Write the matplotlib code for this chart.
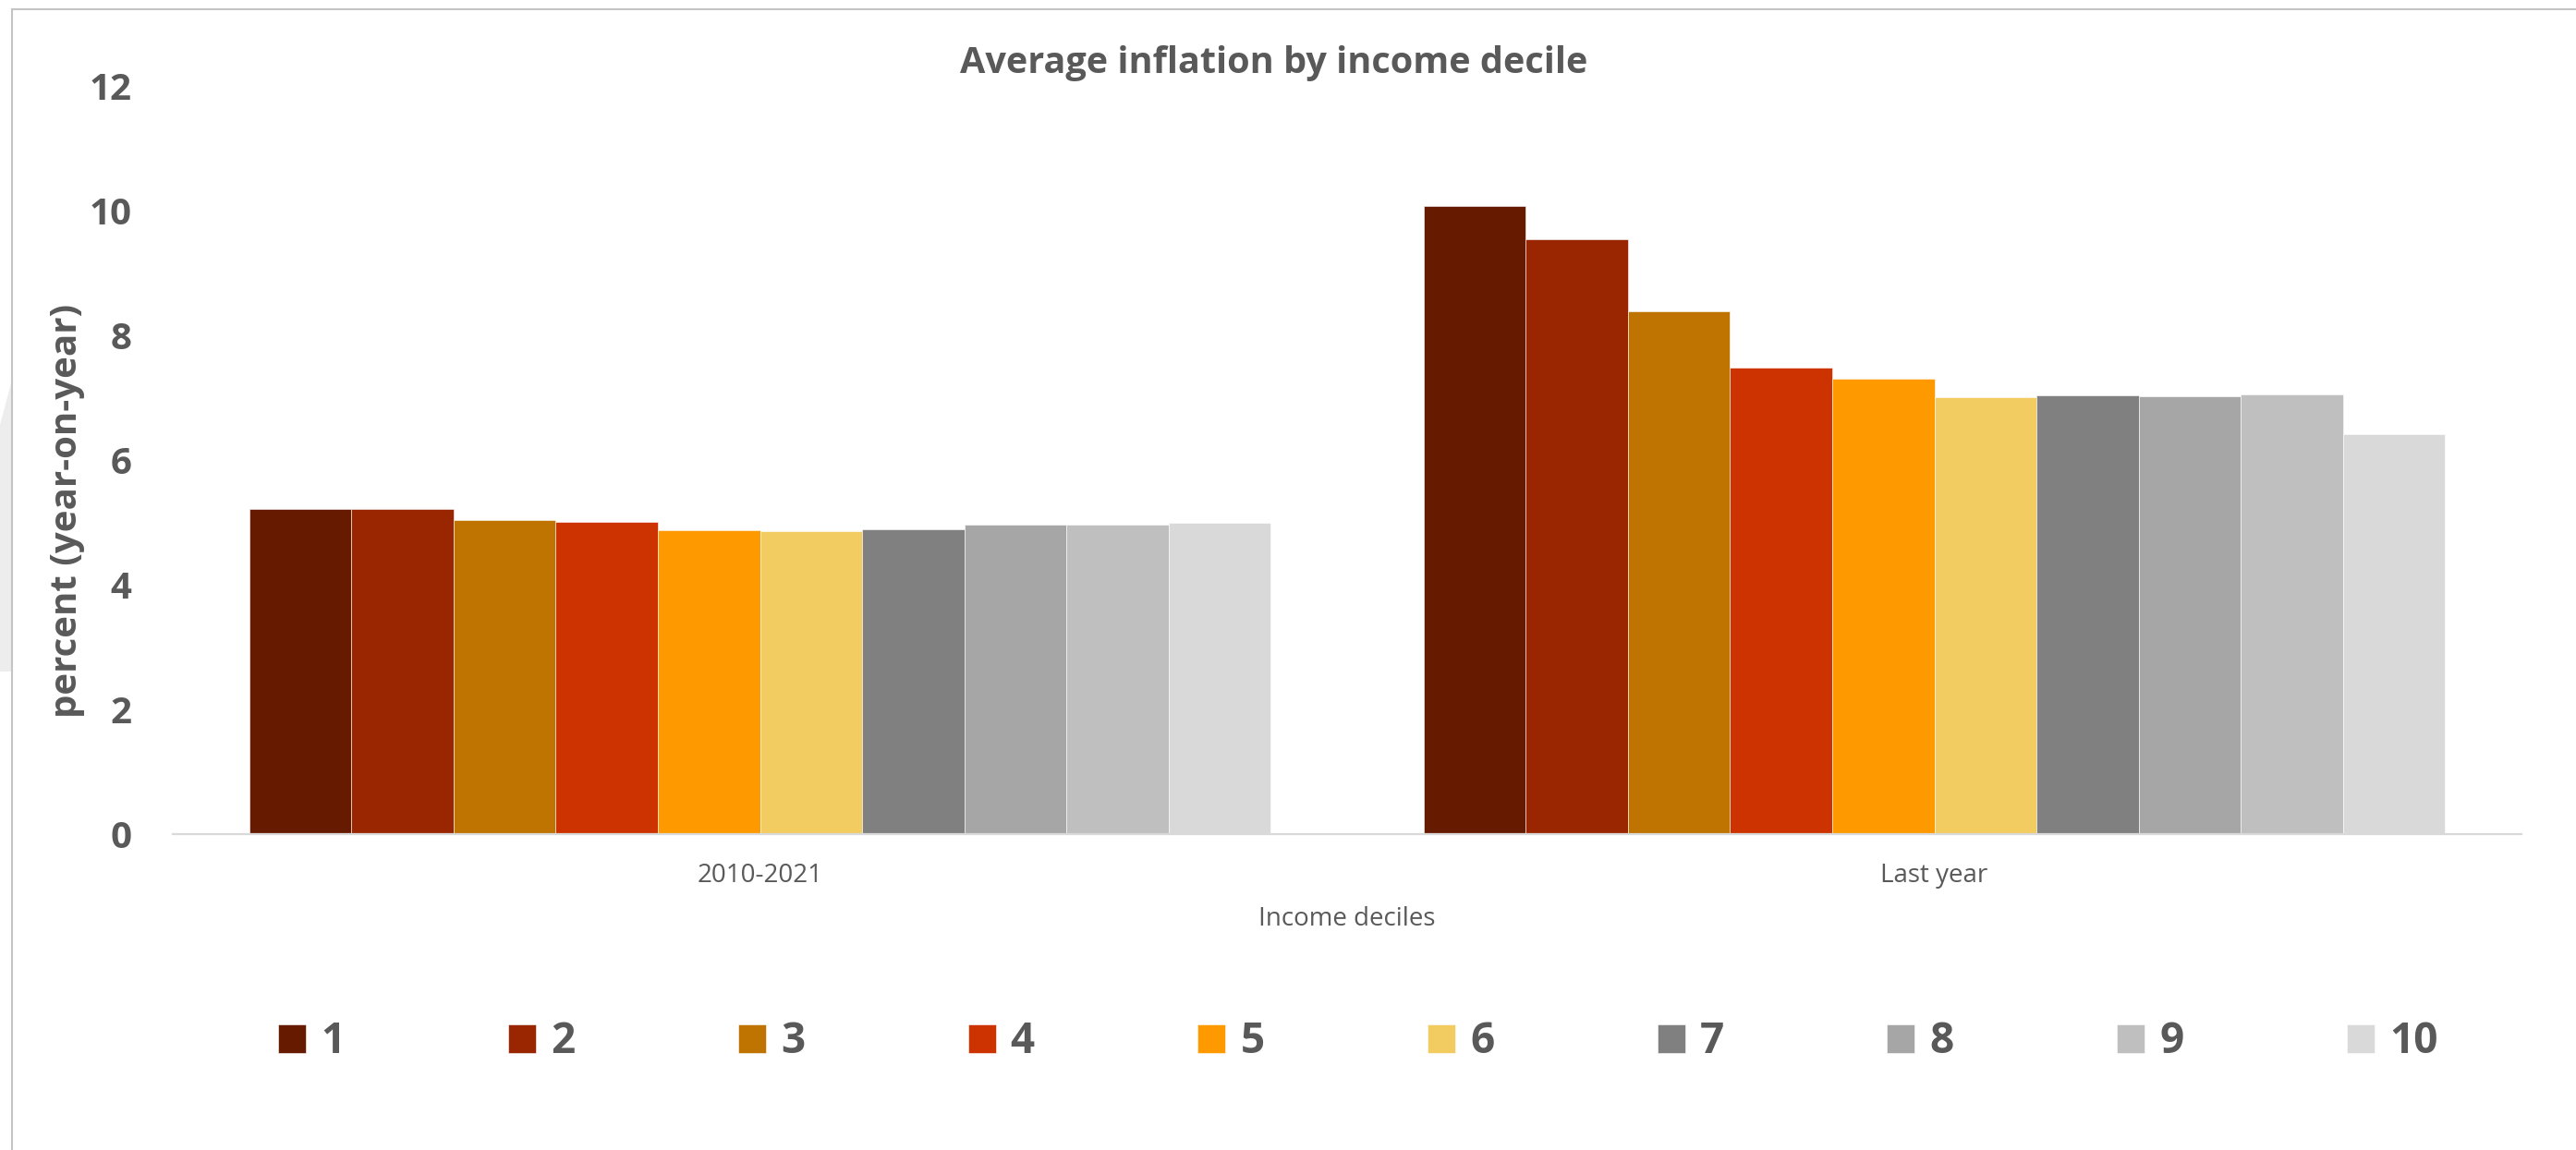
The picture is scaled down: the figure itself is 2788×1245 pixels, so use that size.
import matplotlib
matplotlib.use("Agg")
import matplotlib.pyplot as plt
from matplotlib.patches import Polygon
from matplotlib.lines import Line2D
import numpy as np

plt.rcParams['font.family'] = ['Open Sans', 'DejaVu Sans']

categories = ["2010-2021", "Last year"]
deciles = ["1", "2", "3", "4", "5", "6", "7", "8", "9", "10"]
values_2010_2021 = [5.21, 5.21, 5.03, 5.00, 4.87, 4.85, 4.88, 4.96, 4.96, 4.99]
values_last_year = [10.07, 9.54, 8.38, 7.48, 7.30, 7.00, 7.04, 7.02, 7.05, 6.41]
colors = ["#661A00", "#992600", "#BF7300", "#CC3300", "#FF9900",
          "#F2CC60", "#808080", "#A6A6A6", "#BFBFBF", "#D9D9D9"]
yticks = [0, 2, 4, 6, 8, 10, 12]

W, H = 2788, 1245
fig = plt.figure(figsize=(W / 100, H / 100), dpi=100)
fig.patch.set_facecolor("white")

ax = fig.add_axes([187 / W, 1 - 903 / H, (2729 - 187) / W, (903 - 92.5) / H])

text_gray = "#595959"
n = len(deciles)
group_width = 0.8694
bw = group_width / n
x = np.arange(len(categories))
for i in range(n):
    vals = [values_2010_2021[i], values_last_year[i]]
    ax.bar(x + (i - (n - 1) / 2) * bw, vals, width=bw, color=colors[i],
           edgecolor="white", linewidth=0.4, label=deciles[i], zorder=2)

ax.set_xlim(-0.5, 1.5)
ax.set_ylim(0, 12)
ax.set_yticks(yticks)
ax.set_yticklabels([str(t) for t in yticks], fontsize=29, fontweight="bold", color=text_gray)
ax.set_xticks(x)
ax.set_xticklabels(categories, fontsize=20, color=text_gray)
ax.tick_params(axis="y", length=0, pad=32)
ax.tick_params(axis="x", length=0, pad=22)
for s in ["top", "right", "left"]:
    ax.spines[s].set_visible(False)
ax.spines["bottom"].set_color("#D9D9D9")
ax.spines["bottom"].set_linewidth(1.6)
ax.set_facecolor("white")

ax.set_xlabel("Income deciles", fontsize=20, color=text_gray, labelpad=14)

fig.text(73 / W, 1 - 553 / H, "percent (year-on-year)", rotation=90, fontsize=29,
         fontweight="bold", color=text_gray, ha="center", va="center")

fig.text(1379 / W, 1 - 68 / H, "Average inflation by income decile", fontsize=28.5,
         fontweight="bold", color=text_gray, ha="center", va="center")

leg = fig.legend(loc="center", bbox_to_anchor=(1470 / W, 1 - 1128 / H), ncol=10,
                 frameon=False, prop={"size": 33, "weight": "bold"},
                 handlelength=0.655, handleheight=0.655, handletextpad=0.35,
                 columnspacing=3.85, labelcolor=text_gray)

# chart border lines (top and left)
fig.add_artist(Line2D([13 / W, 1], [1 - 9.5 / H, 1 - 9.5 / H], transform=fig.transFigure,
                      color="#C4C4C4", linewidth=1.5))
fig.add_artist(Line2D([13 / W, 13 / W], [0, 1 - 9.5 / H], transform=fig.transFigure,
                      color="#C4C4C4", linewidth=1.5))
# faint watermark shape at the left edge
fig.add_artist(Polygon([[0, 1 - 460 / H], [12 / W, 1 - 415 / H], [12 / W, 1 - 727 / H], [0, 1 - 727 / H]],
                       closed=True, transform=fig.transFigure, facecolor="#EDEDED", edgecolor="none"))

fig.savefig("out.png", dpi=100, facecolor="white")
